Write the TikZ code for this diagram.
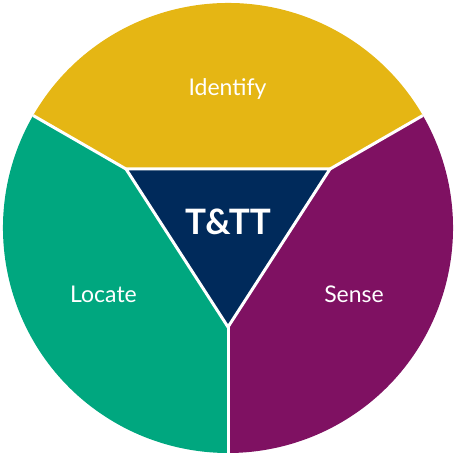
\documentclass[tikz,border=0pt]{standalone}
\usepackage{fontspec}
\setmainfont{Lato}
\usetikzlibrary{calc}
\definecolor{cyellow}{HTML}{E5B614}
\definecolor{cgreen}{HTML}{00A77F}
\definecolor{cpurple}{HTML}{7F1162}
\definecolor{cnavy}{HTML}{002A5B}
\begin{document}
\begin{tikzpicture}[x=1pt,y=1pt,
  sep/.style={draw=white,line width=3pt},
  lbl/.style={text=white,font=\fontsize{23}{26}\selectfont,anchor=base,inner sep=0pt}]
\useasboundingbox (0,0) rectangle (456,456);
\coordinate (C) at (228,228);
\coordinate (A) at ($(C)+(150:225)$);
\coordinate (B) at ($(C)+(30:225)$);
\coordinate (D) at ($(C)+(270:225)$);
\coordinate (TL) at (126,287);
\coordinate (TR) at (330,287);
\coordinate (TB) at (228,129);
\fill[cyellow] (TL) -- (A) arc[start angle=150,end angle=30,radius=225] -- (TR) -- cycle;
\fill[cgreen] (TL) -- (A) arc[start angle=150,end angle=270,radius=225] -- (TB) -- cycle;
\fill[cpurple] (TR) -- (B) arc[start angle=30,end angle=-90,radius=225] -- (TB) -- cycle;
\fill[cnavy] (TL) -- (TR) -- (TB) -- cycle;
\draw[sep] (TL) -- (A);
\draw[sep] (TR) -- (B);
\draw[sep] (TB) -- (D);
\draw[sep,line join=miter] (TL) -- (TR) -- (TB) -- cycle;
\node[lbl] (id) at (227.5,360) {Identify};
\node[lbl] (lo) at (103.5,153) {Locate};
\node[lbl] (se) at (354,153) {Sense};
\node[lbl,font=\fontsize{35}{40}\selectfont\bfseries] (tt) at (228,221) {T\&TT};
\end{tikzpicture}
\end{document}
